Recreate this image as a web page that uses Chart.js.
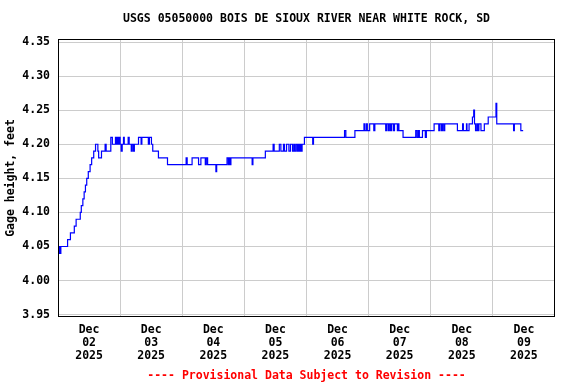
<!DOCTYPE html>
<html>
<head>
<meta charset="utf-8">
<script src="https://cdn.jsdelivr.net/npm/chart.js@4/dist/chart.umd.min.js"></script>
<style>html,body{margin:0;padding:0;background:#fff;}canvas{display:block;}</style>
</head>
<body>
<canvas id="c" width="576" height="384"></canvas>
<script>
// ---- Text ----
const titleText = 'USGS 05050000 BOIS DE SIOUX RIVER NEAR WHITE ROCK, SD';
const yAxisTitle = 'Gage height, feet';
const footerText = '---- Provisional Data Subject to Revision ----';

// ---- Tick labels ----
const monthLabel = 'Dec';
const yearLabel = '2025';
const dayLabels = ['02', '03', '04', '05', '06', '07', '08', '09'];
const yTicks = [3.95, 4.00, 4.05, 4.10, 4.15, 4.20, 4.25, 4.30, 4.35];

// ---- Series: hours since Dec 02 00:00 where the gage height changes, and the new value ----
const hours = [
  0.2, 0.4, 0.7, 0.9, 1.1, 3.7, 4.8, 6.3, 7.0, 8.6,
  9.0, 9.6, 10.1, 10.6, 11.1, 11.7, 12.4, 13.0, 13.8, 14.5,
  15.4, 15.7, 16.8, 18.2, 18.6, 20.4, 21.0, 22.2, 22.6, 23.0,
  23.4, 23.7, 24.0, 24.4, 24.8, 25.3, 25.6, 27.1, 27.5, 28.3,
  28.6, 29.1, 29.5, 31.1, 32.1, 32.4, 34.9, 35.3, 36.1, 36.6,
  38.8, 42.3, 49.5, 49.9, 51.8, 54.3, 55.2, 56.9, 57.3, 57.8,
  61.0, 61.3, 65.3, 65.8, 66.2, 66.5, 66.8, 75.0, 75.3, 80.1,
  83.1, 83.5, 85.5, 86.1, 87.1, 87.5, 88.3, 89.2, 89.8, 90.6,
  91.1, 91.5, 92.0, 92.5, 92.9, 93.3, 93.7, 94.1, 94.3, 95.2,
  98.4, 98.7, 110.7, 111.2, 114.7, 118.2, 118.6, 119.2, 119.5, 120.4,
  122.0, 122.4, 126.6, 127.0, 127.6, 128.0, 128.5, 128.9, 129.6, 130.0,
  131.1, 131.3, 131.7, 133.3, 138.2, 138.7, 139.2, 139.6, 140.8, 141.9,
  142.3, 145.3, 147.1, 147.5, 148.1, 148.5, 149.0, 149.4, 154.3, 156.3,
  156.6, 157.8, 158.0, 158.8, 160.1, 160.6, 160.9, 161.3, 161.8, 162.2,
  162.6, 163.4, 164.7, 166.2, 169.2, 169.5, 176.0, 176.3, 178.8, 179.7
];
const gageHeight = [
  4.05, 4.04, 4.05, 4.04, 4.05, 4.06, 4.07, 4.08, 4.09, 4.10,
  4.11, 4.12, 4.13, 4.14, 4.15, 4.16, 4.17, 4.18, 4.19, 4.20,
  4.19, 4.18, 4.19, 4.20, 4.19, 4.21, 4.20, 4.21, 4.20, 4.21,
  4.20, 4.21, 4.20, 4.19, 4.20, 4.21, 4.20, 4.21, 4.20, 4.19,
  4.20, 4.19, 4.20, 4.21, 4.20, 4.21, 4.20, 4.21, 4.20, 4.19,
  4.18, 4.17, 4.18, 4.17, 4.18, 4.17, 4.18, 4.17, 4.18, 4.17,
  4.16, 4.17, 4.18, 4.17, 4.18, 4.17, 4.18, 4.17, 4.18, 4.19,
  4.20, 4.19, 4.20, 4.19, 4.20, 4.19, 4.20, 4.19, 4.20, 4.19,
  4.20, 4.19, 4.20, 4.19, 4.20, 4.19, 4.20, 4.19, 4.20, 4.21,
  4.20, 4.21, 4.22, 4.21, 4.22, 4.23, 4.22, 4.23, 4.22, 4.23,
  4.22, 4.23, 4.22, 4.23, 4.22, 4.23, 4.22, 4.23, 4.22, 4.23,
  4.22, 4.23, 4.22, 4.21, 4.22, 4.21, 4.22, 4.21, 4.22, 4.21,
  4.22, 4.23, 4.22, 4.23, 4.22, 4.23, 4.22, 4.23, 4.22, 4.23,
  4.22, 4.23, 4.22, 4.23, 4.24, 4.25, 4.23, 4.22, 4.23, 4.22,
  4.23, 4.22, 4.23, 4.24, 4.26, 4.23, 4.22, 4.23, 4.22, 4.22
];

const points = hours.map((h, i) => ({ x: h, y: gageHeight[i] }));

const monoFont = { family: "'DejaVu Sans Mono', 'Liberation Mono', monospace", size: 11.5, weight: 'bold', lineHeight: 1.2 };

const framePlugin = {
  id: 'frame',
  afterDraw(chart) {
    const { ctx, chartArea: a } = chart;
    ctx.save();
    ctx.strokeStyle = '#000000';
    ctx.lineWidth = 1;
    ctx.strokeRect(a.left + 0.5, a.top - 0.5, a.right - a.left - 1, a.bottom - a.top + 1);
    ctx.restore();
  }
};

new Chart(document.getElementById('c'), {
  type: 'line',
  data: {
    datasets: [{
      data: points,
      borderColor: '#0000ff',
      borderWidth: 1.2,
      pointRadius: 0,
      stepped: 'before',
      fill: false,
      tension: 0
    }]
  },
  options: {
    responsive: false,
    animation: false,
    devicePixelRatio: 1,
    layout: { padding: { left: 0, right: 21, top: 0, bottom: 0 } },
    plugins: {
      legend: { display: false },
      tooltip: { enabled: false },
      title: {
        display: true, text: titleText, fullSize: false, color: '#000000',
        font: monoFont, padding: { top: 12.1, bottom: 14.1 }
      },
      subtitle: {
        display: true, text: footerText, position: 'bottom', fullSize: false, color: '#ff0000',
        font: monoFont, padding: { top: 0.8, bottom: 1.4 }
      }
    },
    scales: {
      x: {
        type: 'linear', min: 0, max: 192,
        afterBuildTicks: s => { const t = []; for (let v = 0; v <= 192; v += 12) t.push({ value: v }); s.ticks = t; },
        afterFit: s => { s.height = 52; },
        border: { display: false },
        grid: {
          drawTicks: false, lineWidth: 1,
          color: c => (c.tick && c.tick.value % 24 === 0 && c.tick.value > 0 && c.tick.value < 192) ? '#cccccc' : 'rgba(0,0,0,0)'
        },
        ticks: {
          autoSkip: false, maxRotation: 0, minRotation: 0, padding: 8, color: '#000000',
          font: Object.assign({}, monoFont, { lineHeight: 13 / 11.5 }),
          callback: v => {
            if (v % 24 === 12) { const i = (v - 12) / 24; return [monthLabel, dayLabels[i], yearLabel]; }
            return '';
          }
        }
      },
      y: {
        min: 3.948, max: 4.353,
        afterBuildTicks: s => { s.ticks = yTicks.map(v => ({ value: v })); },
        afterFit: s => { s.width = 58; },
        border: { display: false },
        grid: { drawTicks: false, color: '#cccccc', lineWidth: 1 },
        ticks: { padding: 8, color: '#000000', font: monoFont, callback: v => Number(v).toFixed(2) },
        title: { display: true, text: yAxisTitle, color: '#000000', font: monoFont, padding: { top: 4, bottom: 0 } }
      }
    }
  },
  plugins: [framePlugin]
});
</script>
</body>
</html>
